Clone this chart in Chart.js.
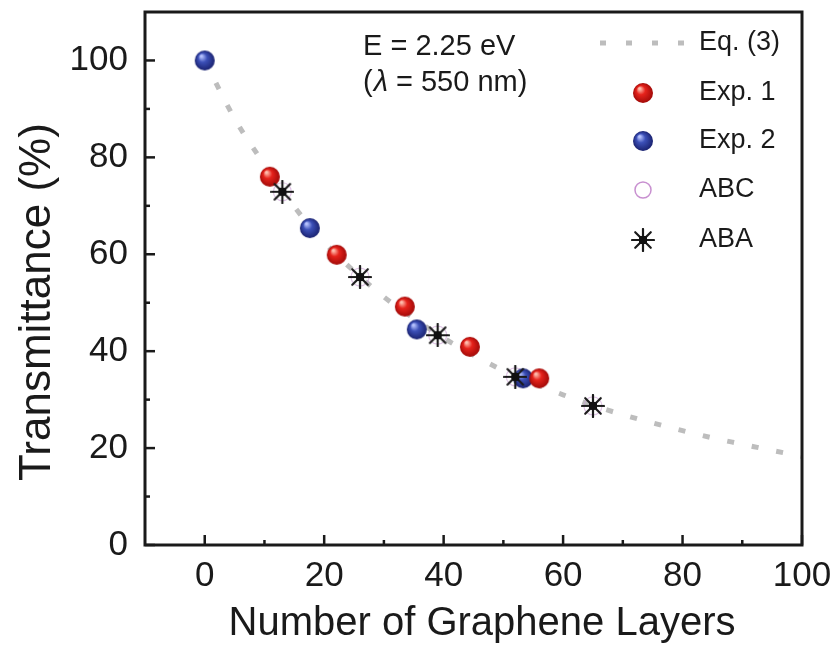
<!DOCTYPE html>
<html>
<head>
<meta charset="utf-8">
<title>Transmittance vs graphene layers</title>
<script src="https://cdn.jsdelivr.net/npm/chart.js@4.4.1/dist/chart.umd.min.js"></script>
<style>
  html, body { margin: 0; padding: 0; background: #fff; }
  #wrap { width: 840px; height: 651px; }
</style>
</head>
<body>
<div id="wrap"><canvas id="chart" width="840" height="651"></canvas></div>
<script>
// Eq. (3) curve
const eqLayers = [0, 5, 10, 15, 20, 25, 30, 35, 40, 45, 50, 55, 60, 65, 70, 75, 80, 85, 90, 95, 100];
const eqTrans = [100, 88, 78.5, 69.8, 62.5, 56.5, 51.2, 46.8, 42.7, 39.2, 36, 33.4, 31, 28.8, 26.9, 25.2, 23.6, 22.1, 20.8, 19.5, 18.3];

// measured points
const exp1Layers = [10.9, 22.1, 33.5, 44.4, 56.0];
const exp1Trans = [76.0, 59.9, 49.2, 40.9, 34.4];
const exp2Layers = [0, 17.6, 35.5, 53.3];
const exp2Trans = [100, 65.4, 44.5, 34.4];
const stackLayers = [13, 26, 39, 52, 65];
const abaTrans = [72.9, 55.3, 43.3, 34.7, 28.7];
const abcTrans = [72.9, 55.3, 43.3, 34.7, 28.7];

const xTickValues = [0, 20, 40, 60, 80, 100];
const xMinorValues = [10, 30, 50, 70, 90];
const yTickValues = [0, 20, 40, 60, 80, 100];
const yMinorValues = [10, 30, 50, 70, 90];

const FONT = '"Liberation Sans", Arial, Helvetica, sans-serif';
const INK = "#1a1a1a";
const CURVE = "#bdbdbd";

const toPoints = (xs, ys) => xs.map((x, i) => ({ x, y: ys[i] }));

// shaded ball used for the experimental points
function makeBall(light, base, dark, r) {
  const c = document.createElement("canvas");
  const s = 2 * r + 2;
  c.width = c.height = s;
  const g = c.getContext("2d");
  const m = s / 2;
  const grad = g.createRadialGradient(m - r * 0.35, m - r * 0.45, r * 0.08, m, m, r);
  grad.addColorStop(0, light);
  grad.addColorStop(0.4, base);
  grad.addColorStop(1, dark);
  g.fillStyle = grad;
  g.beginPath();
  g.arc(m, m, r, 0, Math.PI * 2);
  g.fill();
  return c;
}

// eight-armed asterisk with a dark core
function makeStar(r) {
  const c = document.createElement("canvas");
  const s = 2 * r + 2;
  c.width = c.height = s;
  const g = c.getContext("2d");
  const m = s / 2;
  g.strokeStyle = INK;
  g.lineWidth = 2.2;
  g.lineCap = "round";
  for (let k = 0; k < 4; k++) {
    const a = (k * Math.PI) / 4;
    g.beginPath();
    g.moveTo(m - Math.cos(a) * r, m - Math.sin(a) * r);
    g.lineTo(m + Math.cos(a) * r, m + Math.sin(a) * r);
    g.stroke();
  }
  g.fillStyle = "#111";
  g.fillRect(m - 4, m - 4, 8, 8);
  return c;
}

const redBall = makeBall("#ffc0b0", "#e6231c", "#a20a08", 10);
const blueBall = makeBall("#b8c4ff", "#3c50b8", "#1a2270", 10);
const starMark = makeStar(11);

const frameAndText = {
  id: "frameAndText",
  afterDraw(chart) {
    const { ctx, chartArea: a, scales } = chart;
    const xs = scales.x, ys = scales.y;
    ctx.save();

    // ticks pointing inwards
    ctx.strokeStyle = INK;
    ctx.lineWidth = 2.5;
    const tick = (x1, y1, x2, y2) => {
      ctx.beginPath();
      ctx.moveTo(x1, y1);
      ctx.lineTo(x2, y2);
      ctx.stroke();
    };
    xTickValues.forEach((v) => { const p = xs.getPixelForValue(v); tick(p, a.bottom, p, a.bottom - 10); });
    xMinorValues.forEach((v) => { const p = xs.getPixelForValue(v); tick(p, a.bottom, p, a.bottom - 5); });
    yTickValues.forEach((v) => { const p = ys.getPixelForValue(v); tick(a.left, p, a.left + 10, p); });
    yMinorValues.forEach((v) => { const p = ys.getPixelForValue(v); tick(a.left, p, a.left + 5, p); });

    // frame
    ctx.lineWidth = 3;
    ctx.strokeRect(a.left, a.top, a.right - a.left, a.bottom - a.top);

    // axis titles
    ctx.fillStyle = INK;
    ctx.textAlign = "center";
    ctx.textBaseline = "alphabetic";
    ctx.font = `40px ${FONT}`;
    ctx.fillText("Number of Graphene Layers", 482, 635);
    ctx.save();
    ctx.translate(50, 302);
    ctx.rotate(-Math.PI / 2);
    ctx.font = `44px ${FONT}`;
    ctx.fillText("Transmittance (%)", 0, 0);
    ctx.restore();

    // photon energy note
    ctx.textAlign = "left";
    ctx.textBaseline = "middle";
    ctx.font = `29px ${FONT}`;
    ctx.fillText("E = 2.25 eV", 363, 47);
    let x = 363;
    ctx.fillText("(", x, 83);
    x += ctx.measureText("(").width + 1;
    ctx.font = `italic 29px ${FONT}`;
    ctx.fillText("λ", x, 83);
    x += ctx.measureText("λ").width;
    ctx.font = `29px ${FONT}`;
    ctx.fillText(" = 550 nm)", x, 83);

    // legend
    ctx.strokeStyle = CURVE;
    ctx.lineWidth = 5;
    ctx.setLineDash([6, 20]);
    tick(600, 43, 686, 43);
    ctx.setLineDash([]);
    const mx = 643;
    ctx.drawImage(redBall, mx - redBall.width / 2, 93 - redBall.height / 2);
    ctx.drawImage(blueBall, mx - blueBall.width / 2, 141 - blueBall.height / 2);
    ctx.strokeStyle = "#c890d0";
    ctx.lineWidth = 1.5;
    ctx.beginPath();
    ctx.arc(mx, 190, 8, 0, Math.PI * 2);
    ctx.stroke();
    ctx.drawImage(starMark, mx - starMark.width / 2, 240 - starMark.height / 2);

    ctx.fillStyle = INK;
    ctx.font = `27px ${FONT}`;
    [["Eq. (3)", 43], ["Exp. 1", 93], ["Exp. 2", 141], ["ABC", 190], ["ABA", 240]].forEach(([t, y]) => {
      ctx.fillText(t, 699, y);
    });
    ctx.restore();
  },
};

new Chart(document.getElementById("chart"), {
  type: "scatter",
  data: {
    datasets: [
      {
        label: "Eq. (3)",
        data: toPoints(eqLayers, eqTrans),
        showLine: true,
        borderColor: CURVE,
        borderWidth: 5,
        borderDash: [7, 18],
        borderCapStyle: "butt",
        cubicInterpolationMode: "monotone",
        pointRadius: 0,
        order: 4,
      },
      {
        label: "ABC",
        data: toPoints(stackLayers, abcTrans),
        pointStyle: "circle",
        pointRadius: 9,
        borderColor: "rgba(205,160,215,0.6)",
        borderWidth: 1.2,
        backgroundColor: "rgba(255,255,255,0)",
        order: 3,
      },
      {
        label: "Exp. 2",
        data: toPoints(exp2Layers, exp2Trans),
        pointStyle: blueBall,
        pointRadius: 10,
        order: 2,
      },
      {
        label: "Exp. 1",
        data: toPoints(exp1Layers, exp1Trans),
        pointStyle: redBall,
        pointRadius: 10,
        order: 1,
      },
      {
        label: "ABA",
        data: toPoints(stackLayers, abaTrans),
        pointStyle: starMark,
        pointRadius: 11,
        order: 0,
      },
    ],
  },
  options: {
    responsive: false,
    animation: false,
    devicePixelRatio: 1,
    layout: { padding: { left: 0, right: 38, top: 12, bottom: 0 } },
    plugins: { legend: { display: false }, tooltip: { enabled: false } },
    scales: {
      x: {
        type: "linear",
        min: -10,
        max: 100,
        grid: { display: false, drawTicks: false },
        border: { display: false },
        afterBuildTicks: (s) => { s.ticks = xTickValues.map((value) => ({ value })); },
        afterFit: (s) => { s.height = 106; s.paddingLeft = 0; s.paddingRight = 0; },
        ticks: { font: { family: FONT, size: 35 }, color: INK, padding: 10, maxRotation: 0 },
      },
      y: {
        type: "linear",
        min: 0,
        max: 110,
        grid: { display: false, drawTicks: false },
        border: { display: false },
        afterBuildTicks: (s) => { s.ticks = yTickValues.map((value) => ({ value })); },
        afterFit: (s) => { s.width = 145; s.paddingTop = 0; s.paddingBottom = 0; },
        ticks: { font: { family: FONT, size: 35 }, color: INK, padding: 17 },
      },
    },
  },
  plugins: [frameAndText],
});
</script>
</body>
</html>
